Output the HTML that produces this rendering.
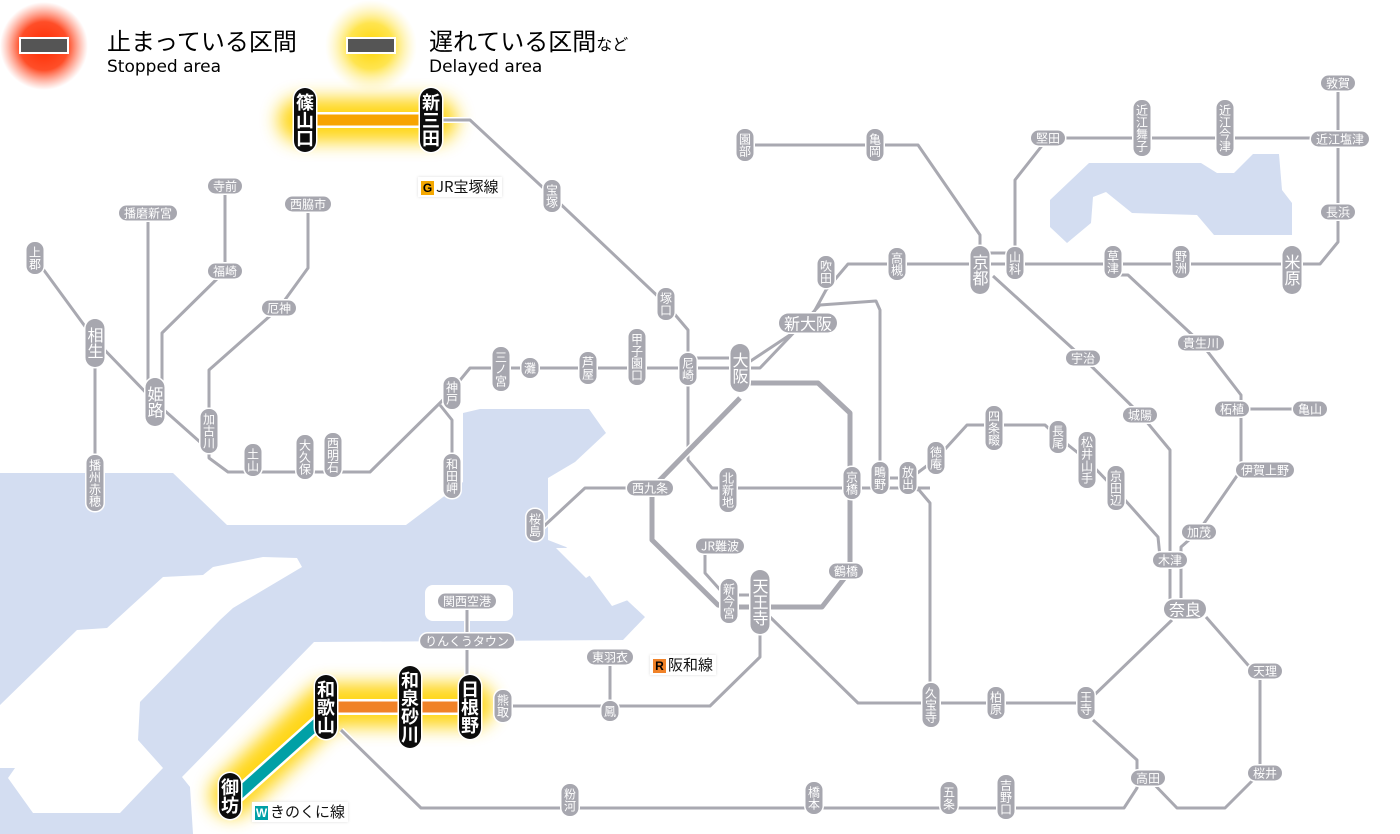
<!DOCTYPE html>
<html><head><meta charset="utf-8"><style>
body{margin:0;width:1400px;height:834px;overflow:hidden;background:#fff;position:relative;font-family:"Liberation Sans","Noto Sans CJK JP",sans-serif}
svg{position:absolute;left:0;top:0}
.s{position:absolute;background:#a7a7af;color:#fff;font-size:12px;line-height:13px;border-radius:8px;box-shadow:0 0 0 1.5px #fff;transform:translate(-50%,-50%);white-space:nowrap;font-family:"Noto Sans CJK JP",sans-serif}
.v{writing-mode:vertical-rl;padding:4px 2px}
.h{padding:1px 5px}
.b{font-size:16px;line-height:17px;border-radius:10px}
.v.b{padding:8px 1px}
.k{background:#0c0c0c;font-size:18px;line-height:20px;font-weight:bold;border-radius:11px;padding:5px 1px}
.lab{position:absolute;font-size:15px;background:#fff;box-shadow:0 0 3px #ddd;padding:1px 3px;font-family:"Noto Sans CJK JP",sans-serif;color:#111;line-height:18px}
.lab i{font-style:normal;display:inline-block;color:#000;font-size:12px;font-weight:bold;width:13px;height:14px;line-height:14px;text-align:center;margin-right:2px;font-family:"Liberation Sans",sans-serif}
</style></head><body>
<svg width="1400" height="834" viewBox="0 0 1400 834">
<defs>
<radialGradient id="rg"><stop offset="0" stop-color="#ff2a00"/><stop offset=".55" stop-color="#ff3a10" stop-opacity=".9"/><stop offset="1" stop-color="#ff6040" stop-opacity="0"/></radialGradient>
<radialGradient id="yg"><stop offset="0" stop-color="#ffd400"/><stop offset=".5" stop-color="#ffe030" stop-opacity=".85"/><stop offset="1" stop-color="#fff0a0" stop-opacity="0"/></radialGradient>
<filter id="bl" x="-50%" y="-50%" width="200%" height="200%"><feGaussianBlur stdDeviation="9"/></filter>
<g id="net" fill="none" stroke-linejoin="round">
<path d="M35,258 L95,340 L155,402 L209,450 L209,458 L228,472 L370,472 L445,398 L452,390 L470,368 L740,368"/>
<path d="M95,340 V483"/>
<path d="M148,213 V400"/>
<path d="M225,186 V271 L162,333 V395"/>
<path d="M308,204 V268 L279,308 L209,370 V420"/>
<path d="M440,405 L452,420 V476"/>
<path d="M440,120 L470,120 L552,196 L666,304 L688,330 V460 L712,488 L930,488"/>
<path d="M688,358 H740"/>
<path d="M740,368 L808,323 L826,290 L848,264 H1320 L1338,242 V83"/>
<path d="M745,368 L760,368 L820,305 L876,301 L880,310 V480"/>
<path d="M745,145 H918 L980,235 V262"/>
<path d="M980,253 H1015"/>
<path d="M1015,262 V180 L1048,138 H1338"/>
<path d="M993,276 L1082,357 L1141,415 L1170,450 V600"/>
<path d="M1113,275 H1128 L1201,343 L1241,395 V470 L1198,532 L1181,547 V600"/>
<path d="M1241,409 H1310"/>
<path d="M908,480 L936,459 L967,425 H1045 L1058,437 L1087,460 L1116,490 L1158,537 L1160,557"/>
<path d="M880,478 H908 M908,488 L919,490 L930,503 V703"/>
<path d="M770,617 L858,703 H1086 L1172,620"/>
<path d="M1206,617 L1248,665 L1260,671 V773 L1225,808 H1177 L1149,779"/>
<path d="M1093,720 L1137,760 V788 L1124,808 H421 L341,730"/>
<path d="M760,630 V657 L710,706 H503"/>
<path d="M610,657 V706"/>
<path d="M467,601 V680"/>
<path d="M705,546 V573 L722,592"/>
<path d="M729,595 H760"/>
<path d="M650,488 H585 L543,527"/>
</g>
<path id="loop" d="M740,383 H818 L850,413 V571 L822,607 H729 L718,605 L652,540 V488 L740,398" fill="none" stroke-linejoin="round"/>
</defs>
<!-- water -->
<path fill="#d3ddf1" d="M0,473 L173,473 L227,525 L406,525 L463,482 L463,413 L480,409 L589,409 L606,433 L575,462 L548,478 L548,540 L566,547 L600,575 L645,617 L623,640 L314,642 L182,777 L190,787 L193,834 L0,834 Z"/>
<path fill="#fff" d="M0,705 L77,630 L107,628 L163,577 L203,575 L213,567 L263,557 L297,558 L302,567 L233,608 L220,620 L140,702 L138,740 L163,768 L120,813 L33,813 L8,778 L15,768 L0,768 Z"/>
<rect x="425" y="585" width="88" height="36" rx="8" fill="#fff"/>
<path fill="#fff" d="M556,548 L572,548 L595,572 L586,578 Z M578,560 L600,560 L628,600 L612,606 Z"/>
<path fill="#d3ddf1" d="M1089,163 L1201,163 L1217,173 L1234,173 L1253,154 L1279,154 L1282,190 L1292,203 L1292,235 L1214,235 L1197,215 L1132,213 L1106,192 L1093,197 L1091,223 L1067,243 L1050,227 L1050,200 Z"/>
<!-- legend -->
<circle cx="44" cy="46" r="44" fill="url(#rg)"/>
<rect x="20" y="38" width="48" height="15" fill="#555" stroke="#fff" stroke-width="2"/>
<circle cx="371" cy="46" r="46" fill="url(#yg)"/>
<rect x="347" y="38" width="48" height="15" fill="#555" stroke="#fff" stroke-width="2"/>
<text x="107" y="50" font-size="24" font-family="Noto Sans CJK JP,sans-serif">止まっている区間</text>
<text x="107" y="72" font-size="17" font-family="DejaVu Sans,sans-serif">Stopped area</text>
<text x="429" y="50" font-size="24" font-family="Noto Sans CJK JP,sans-serif">遅れている区間<tspan font-size="16">など</tspan></text>
<text x="429" y="72" font-size="17" font-family="DejaVu Sans,sans-serif">Delayed area</text>
<!-- glows -->
<g filter="url(#bl)" opacity=".9">
<path d="M300,120 H435" stroke="#ffd200" stroke-width="44" fill="none" stroke-linecap="round"/>
<path d="M232,795 L326,705 H472" stroke="#ffd200" stroke-width="44" fill="none" stroke-linecap="round" stroke-linejoin="round"/>
</g>
<!-- network -->
<use href="#net" stroke="#fff" stroke-width="6"/>
<use href="#net" stroke="#a9a9b1" stroke-width="3"/>
<use href="#loop" stroke="#fff" stroke-width="8"/>
<use href="#loop" stroke="#a9a9b1" stroke-width="5"/>
<!-- delayed lines -->
<path d="M304,120 H430" stroke="#fff" stroke-width="16"/>
<path d="M304,120 H430" stroke="#f7a400" stroke-width="11"/>
<path d="M326,707 H470" stroke="#fff" stroke-width="16"/>
<path d="M326,707 H470" stroke="#f08228" stroke-width="11"/>
<path d="M330,712 L232,800" stroke="#fff" stroke-width="16"/>
<path d="M330,712 L232,800" stroke="#00a0a6" stroke-width="11"/>
</svg>

<div class="s v" style="left:35px;top:258px">上郡</div>
<div class="s v b" style="left:95px;top:343px">相生</div>
<div class="s v" style="left:95px;top:483px">播州赤穂</div>
<div class="s v b" style="left:155px;top:402px">姫路</div>
<div class="s h" style="left:148px;top:213px">播磨新宮</div>
<div class="s h" style="left:225px;top:186px">寺前</div>
<div class="s h" style="left:225px;top:271px">福崎</div>
<div class="s h" style="left:308px;top:204px">西脇市</div>
<div class="s h" style="left:279px;top:308px">厄神</div>
<div class="s v" style="left:209px;top:431px">加古川</div>
<div class="s v" style="left:253px;top:460px">土山</div>
<div class="s v" style="left:305px;top:457px">大久保</div>
<div class="s v" style="left:333px;top:455px">西明石</div>
<div class="s v" style="left:452px;top:393px">神戸</div>
<div class="s v" style="left:452px;top:476px">和田岬</div>
<div class="s v" style="left:501px;top:369px">三ノ宮</div>
<div class="s v" style="left:530px;top:368px">灘</div>
<div class="s v" style="left:588px;top:368px">芦屋</div>
<div class="s v" style="left:637px;top:357px">甲子園口</div>
<div class="s v" style="left:688px;top:369px">尼崎</div>
<div class="s v" style="left:666px;top:304px">塚口</div>
<div class="s v" style="left:552px;top:196px">宝塚</div>
<div class="s v k" style="left:305px;top:120px">篠山口</div>
<div class="s v k" style="left:431px;top:120px">新三田</div>
<div class="s v b" style="left:740px;top:368px">大阪</div>
<div class="s h b" style="left:808px;top:323px">新大阪</div>
<div class="s v" style="left:826px;top:272px">吹田</div>
<div class="s v" style="left:897px;top:264px">高槻</div>
<div class="s v b" style="left:980px;top:270px">京都</div>
<div class="s v" style="left:1015px;top:263px">山科</div>
<div class="s v" style="left:745px;top:145px">園部</div>
<div class="s v" style="left:875px;top:145px">亀岡</div>
<div class="s h" style="left:1048px;top:138px">堅田</div>
<div class="s v" style="left:1142px;top:128px">近江舞子</div>
<div class="s v" style="left:1225px;top:128px">近江今津</div>
<div class="s h" style="left:1338px;top:83px">敦賀</div>
<div class="s h" style="left:1340px;top:139px">近江塩津</div>
<div class="s h" style="left:1338px;top:212px">長浜</div>
<div class="s v b" style="left:1292px;top:270px">米原</div>
<div class="s v" style="left:1113px;top:262px">草津</div>
<div class="s v" style="left:1181px;top:262px">野洲</div>
<div class="s h" style="left:1083px;top:358px">宇治</div>
<div class="s h" style="left:1201px;top:343px">貴生川</div>
<div class="s h" style="left:1140px;top:415px">城陽</div>
<div class="s h" style="left:1232px;top:409px">柘植</div>
<div class="s h" style="left:1310px;top:409px">亀山</div>
<div class="s h" style="left:1265px;top:470px">伊賀上野</div>
<div class="s h" style="left:1199px;top:532px">加茂</div>
<div class="s h" style="left:1170px;top:560px">木津</div>
<div class="s h b" style="left:1185px;top:609px">奈良</div>
<div class="s h" style="left:1265px;top:671px">天理</div>
<div class="s h" style="left:1265px;top:773px">桜井</div>
<div class="s h" style="left:1148px;top:778px">高田</div>
<div class="s v" style="left:1086px;top:703px">王寺</div>
<div class="s v" style="left:996px;top:703px">柏原</div>
<div class="s v" style="left:931px;top:705px">久宝寺</div>
<div class="s v" style="left:1006px;top:797px">吉野口</div>
<div class="s v" style="left:949px;top:798px">五条</div>
<div class="s v" style="left:814px;top:798px">橋本</div>
<div class="s v" style="left:570px;top:800px">粉河</div>
<div class="s h" style="left:610px;top:657px">東羽衣</div>
<div class="s v" style="left:610px;top:711px">鳳</div>
<div class="s v" style="left:503px;top:706px">熊取</div>
<div class="s v k" style="left:470px;top:707px">日根野</div>
<div class="s v k" style="left:410px;top:707px">和泉砂川</div>
<div class="s v k" style="left:326px;top:707px">和歌山</div>
<div class="s v k" style="left:230px;top:796px">御坊</div>
<div class="s h" style="left:467px;top:601px">関西空港</div>
<div class="s h" style="left:467px;top:641px">りんくうタウン</div>
<div class="s v b" style="left:760px;top:602px">天王寺</div>
<div class="s v" style="left:729px;top:601px">新今宮</div>
<div class="s h" style="left:720px;top:546px">JR難波</div>
<div class="s h" style="left:846px;top:571px">鶴橋</div>
<div class="s v" style="left:852px;top:483px">京橋</div>
<div class="s v" style="left:880px;top:478px">鴫野</div>
<div class="s v" style="left:908px;top:478px">放出</div>
<div class="s v" style="left:728px;top:490px">北新地</div>
<div class="s h" style="left:650px;top:488px">西九条</div>
<div class="s v" style="left:535px;top:525px">桜島</div>
<div class="s v" style="left:936px;top:458px">徳庵</div>
<div class="s v" style="left:994px;top:428px">四条畷</div>
<div class="s v" style="left:1058px;top:437px">長尾</div>
<div class="s v" style="left:1087px;top:460px">松井山手</div>
<div class="s v" style="left:1116px;top:488px">京田辺</div>

<div class="lab" style="left:418px;top:177px"><i style="background:#f5a800">G</i>JR宝塚線</div>
<div class="lab" style="left:650px;top:655px"><i style="background:#f08228">R</i>阪和線</div>
<div class="lab" style="left:252px;top:802px"><i style="background:#00a0a6;color:#fff">W</i>きのくに線</div>
</body></html>
